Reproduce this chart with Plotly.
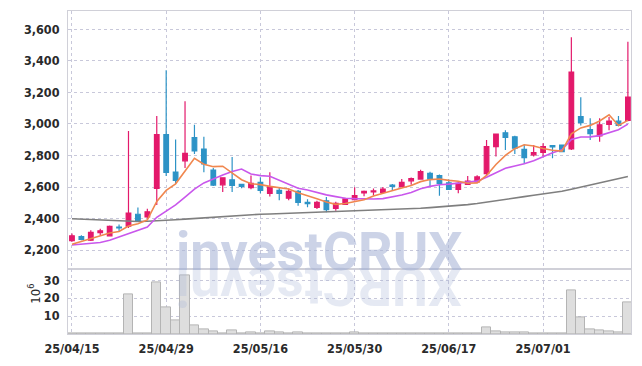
import plotly.graph_objects as go
from plotly.subplots import make_subplots

# ---------------- data ----------------
dates = ["25/04/15", "25/04/16", "25/04/17", "25/04/18", "25/04/21", "25/04/22", "25/04/23", "25/04/24",
         "25/04/25", "25/04/28", "25/04/29", "25/04/30", "25/05/02", "25/05/07", "25/05/08", "25/05/09",
         "25/05/12", "25/05/13", "25/05/14", "25/05/15", "25/05/16", "25/05/19", "25/05/20", "25/05/21",
         "25/05/22", "25/05/23", "25/05/26", "25/05/27", "25/05/28", "25/05/29", "25/05/30", "25/06/02",
         "25/06/04", "25/06/05", "25/06/09", "25/06/10", "25/06/11", "25/06/12", "25/06/13", "25/06/16",
         "25/06/17", "25/06/18", "25/06/19", "25/06/20", "25/06/23", "25/06/24", "25/06/25", "25/06/26",
         "25/06/27", "25/06/30", "25/07/01", "25/07/02", "25/07/03", "25/07/04", "25/07/07", "25/07/08",
         "25/07/09", "25/07/10", "25/07/11", "25/07/14"]

open_ = [2260, 2285, 2262, 2310, 2290, 2345, 2352, 2427, 2410, 2591,
         2933, 2695, 2766, 2914, 2841, 2708, 2614, 2646, 2616, 2596,
         2629, 2560, 2579, 2529, 2573, 2502, 2471, 2512, 2464, 2490,
         2519, 2562, 2569, 2566, 2612, 2602, 2639, 2650, 2687, 2673,
         2627, 2585, 2616, 2633, 2685, 2856, 2944, 2919, 2839, 2804,
         2819, 2862, 2866, 2841, 3047, 2964, 2925, 2998, 3018, 3023]
high = [2305, 2294, 2325, 2335, 2355, 2362, 2956, 2470, 2462, 3050,
        3341, 2902, 3144, 2995, 2919, 2721, 2660, 2791, 2620, 2673,
        2662, 2694, 2596, 2591, 2581, 2523, 2512, 2537, 2506, 2531,
        2598, 2577, 2591, 2600, 2619, 2650, 2660, 2710, 2696, 2679,
        2648, 2633, 2669, 2675, 2898, 2939, 2960, 2925, 2870, 2866,
        2877, 2866, 2870, 3550, 3169, 3037, 3037, 3044, 3050, 3522]
low = [2252, 2262, 2257, 2294, 2287, 2319, 2340, 2381, 2400, 2485,
       2669, 2621, 2721, 2810, 2694, 2606, 2569, 2569, 2592, 2585,
       2560, 2539, 2516, 2516, 2481, 2471, 2460, 2439, 2450, 2485,
       2514, 2541, 2546, 2560, 2577, 2598, 2614, 2646, 2604, 2544,
       2581, 2560, 2612, 2627, 2669, 2794, 2835, 2810, 2746, 2794,
       2794, 2783, 2820, 2835, 2991, 2898, 2887, 2960, 2985, 3018]
close = [2290, 2268, 2312, 2322, 2350, 2340, 2435, 2388, 2443, 2933,
         2692, 2642, 2814, 2829, 2746, 2612, 2658, 2610, 2604, 2623,
         2579, 2602, 2560, 2573, 2502, 2494, 2502, 2456, 2496, 2525,
         2546, 2573, 2575, 2587, 2604, 2629, 2654, 2698, 2650, 2623,
         2585, 2623, 2637, 2664, 2856, 2935, 2914, 2846, 2787, 2819,
         2856, 2855, 2825, 3329, 3008, 2939, 2995, 3018, 2991, 3170]

ma5 = [2237, 2255, 2275, 2293, 2308, 2318, 2352, 2367, 2391, 2508,
       2578, 2620, 2705, 2782, 2745, 2729, 2732, 2691, 2646, 2621,
       2615, 2604, 2594, 2587, 2563, 2546, 2526, 2505, 2490, 2495,
       2505, 2519, 2543, 2561, 2577, 2594, 2610, 2634, 2647, 2651,
       2642, 2636, 2624, 2626, 2673, 2743, 2801, 2843, 2868, 2860,
       2844, 2833, 2828, 2937, 2975, 2991, 3019, 3058, 2990, 3023]
ma10 = [2232, 2238, 2243, 2248, 2262, 2282, 2305, 2324, 2346, 2408,
        2448, 2486, 2536, 2587, 2626, 2653, 2676, 2698, 2714, 2683,
        2672, 2668, 2642, 2617, 2592, 2581, 2565, 2550, 2539, 2529,
        2526, 2523, 2524, 2526, 2536, 2549, 2565, 2589, 2604, 2614,
        2618, 2623, 2629, 2637, 2662, 2693, 2719, 2733, 2747, 2767,
        2794, 2817, 2836, 2902, 2917, 2918, 2926, 2943, 2964, 2999]
ma60 = [2398, 2395, 2392, 2389, 2386, 2383, 2381, 2381, 2383, 2385,
        2388, 2392, 2396, 2400, 2405, 2410, 2414, 2418, 2422, 2425,
        2427, 2429, 2431, 2433, 2435, 2437, 2439, 2441, 2443, 2445,
        2447, 2449, 2451, 2453, 2456, 2459, 2462, 2465, 2469, 2473,
        2477, 2482, 2488, 2495, 2503, 2512, 2521, 2530, 2539, 2548,
        2556, 2564, 2573, 2586, 2599, 2612, 2626, 2640, 2654, 2667]

volume_m = [0.2, 0.2, 0.3, 0.2, 0.3, 0.2, 21.8, 0.6, 0.5, 28.5,
            14.8, 7.6, 32.7, 4.9, 2.5, 1.6, 0.6, 1.8, 0.5, 0.9,
            0.3, 1.4, 0.8, 0.3, 0.7, 0.3, 0.2, 0.3, 0.2, 0.2,
            0.8, 0.2, 0.2, 0.2, 0.6, 0.3, 0.2, 0.2, 0.5, 0.3,
            0.2, 0.2, 0.3, 0.3, 3.8, 1.4, 0.7, 0.7, 0.7, 0.6,
            0.5, 0.2, 0.2, 24.1, 9.3, 2.5, 2.1, 1.6, 1.0, 17.5]

tick_dates = ["25/04/15", "25/04/29", "25/05/16", "25/05/30", "25/06/17", "25/07/01"]
price_ticks = [2200, 2400, 2600, 2800, 3000, 3200, 3400, 3600]
volume_ticks = [10, 20, 30]
watermark = "investCRUX"

# ---------------- style ----------------
UP = "#E3196B"
DOWN = "#2D93C6"
GRID = "rgb(200,200,218)"
AXLINE = "rgb(208,208,216)"
NARROW = "DejaVu Sans Condensed, Liberation Sans Narrow, Roboto, sans-serif"
TICKFONT = dict(family=NARROW, size=12.5, color="#2a2a2a", weight="bold")

fig = make_subplots(rows=2, cols=1, shared_xaxes=True, vertical_spacing=0, row_heights=[0.8, 0.2])

fig.add_trace(go.Candlestick(
    x=dates, open=open_, high=high, low=low, close=close,
    increasing=dict(line=dict(color=UP, width=1.2), fillcolor=UP),
    decreasing=dict(line=dict(color=DOWN, width=1.2), fillcolor=DOWN),
    whiskerwidth=0, showlegend=False, hoverinfo="skip"), row=1, col=1)

for vals, col in [(ma60, "#7f7f7f"), (ma10, "#C957EC"), (ma5, "#F0874F")]:
    fig.add_trace(go.Scatter(x=dates, y=vals, mode="lines", line=dict(color=col, width=1.6),
                             showlegend=False, hoverinfo="skip"), row=1, col=1)

fig.add_trace(go.Bar(x=dates, y=volume_m,
                     marker=dict(color="rgb(222,222,222)", line=dict(color="rgb(180,180,180)", width=1)),
                     showlegend=False, hoverinfo="skip"), row=2, col=1)

xcommon = dict(type="category", range=[-0.42, 59.33], tickmode="array", tickvals=tick_dates,
               showgrid=True, gridcolor=GRID, griddash="dot", gridwidth=1,
               showline=True, linecolor=AXLINE, linewidth=1, mirror=True, zeroline=False,
               rangeslider=dict(visible=False))
fig.update_xaxes(**xcommon)
fig.update_xaxes(showticklabels=False, row=1, col=1)
fig.update_xaxes(ticktext=tick_dates, tickfont=TICKFONT, ticks="outside", ticklen=3,
                 tickcolor="rgba(0,0,0,0)", row=2, col=1)

ycommon = dict(showgrid=True, gridcolor=GRID, griddash="dot", gridwidth=1, zeroline=False,
               showline=True, linecolor=AXLINE, linewidth=1, mirror=True, tickfont=TICKFONT,
               ticks="outside", ticklen=5, tickcolor="rgba(0,0,0,0)")
fig.update_yaxes(**ycommon)
fig.update_yaxes(range=[2077, 3717], tickvals=price_ticks, tickformat=",d", row=1, col=1)
fig.update_yaxes(range=[0, 36], tickvals=volume_ticks, row=2, col=1)

# plot area in pixels: x 68..632, y 10..338
L, R, T, B = 68, 10, 10, 28
W, H = 642, 366
pw, ph = W - L - R, H - T - B

def px_x(x):
    return (x - L) / pw

def px_y(y):
    return (H - B - y) / ph

wm_font = dict(family="Roboto, sans-serif", size=54, weight="bold")
annotations = [
    dict(text="10<sup>6</sup>", x=px_x(34), y=px_y(297), xref="paper", yref="paper",
         showarrow=False, textangle=-90, font=dict(family=NARROW, size=13, color="#2a2a2a"),
         xanchor="center", yanchor="middle"),
    # watermark
    dict(text=watermark, x=px_x(319.5), y=px_y(254), xref="paper", yref="paper",
         showarrow=False, xanchor="center", yanchor="middle",
         font=dict(color="rgba(170,182,215,0.6)", **wm_font)),
    # its faded reflection (glyphs flipped under the baseline)
    dict(text=watermark[::-1], x=px_x(319.5), y=px_y(290.5), xref="paper", yref="paper",
         showarrow=False, xanchor="center", yanchor="middle", textangle=180,
         font=dict(color="rgba(170,182,215,0.3)", **wm_font)),
]

fig.update_layout(width=W, height=H, margin=dict(l=L, r=R, t=T, b=B, pad=0),
                  paper_bgcolor="white", plot_bgcolor="white", bargap=0,
                  annotations=annotations, showlegend=False)

fig.write_html("out.html", config={"displayModeBar": False},
               post_script="document.body.style.margin='0px';")
